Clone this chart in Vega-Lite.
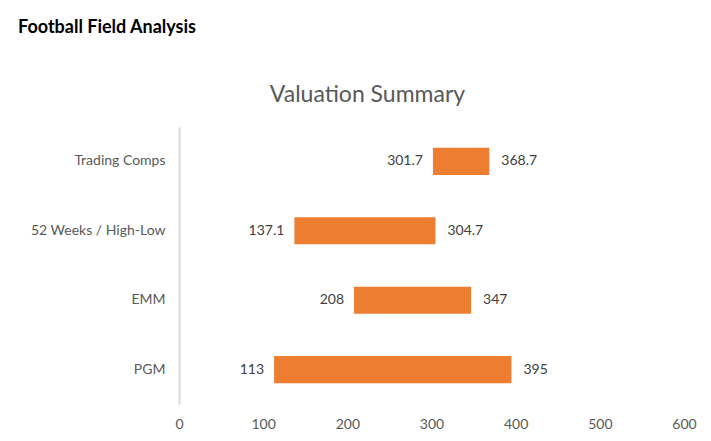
{
  "$schema": "https://vega.github.io/schema/vega-lite/v6.json",
  "background": "white",
  "padding": {"left": 18, "top": 19, "right": 8, "bottom": 6},
  "title": {"text": "Football Field Analysis", "anchor": "start", "frame": "bounds", "fontSize": 18, "font": "Lato", "fontWeight": "bold", "color": "black", "offset": 47},
  "config": {
    "view": {"stroke": null},
    "font": "Lato",
    "axis": {"labelFont": "Lato", "labelFontSize": 14, "labelColor": "#595959", "ticks": false, "grid": false, "title": null}
  },
  "vconcat": [
    {
      "width": 505,
      "height": 277,
      "title": {"text": "Valuation Summary", "fontSize": 23, "fontWeight": "normal", "color": "#595959", "font": "Lato", "anchor": "middle", "dx": -64, "offset": 20},
      "data": {"values": [
        {"method": "Trading Comps", "low": 301.7, "high": 368.7},
        {"method": "52 Weeks / High-Low", "low": 137.1, "high": 304.7},
        {"method": "EMM", "low": 208, "high": 347},
        {"method": "PGM", "low": 113, "high": 395}
      ]},
      "encoding": {
        "y": {"field": "method", "type": "nominal", "sort": null,
              "scale": {"paddingInner": 0.61, "paddingOuter": 0.3},
              "axis": {"domain": true, "domainColor": "#D9D9D9", "domainWidth": 2, "labelPadding": 14, "minExtent": 161}}
      },
      "layer": [
        {
          "mark": {"type": "bar", "color": "#ED7D31"},
          "encoding": {
            "x": {"field": "low", "type": "quantitative", "scale": {"domain": [0, 600]},
                  "axis": {"domain": false, "values": [0, 100, 200, 300, 400, 500, 600], "labelPadding": 13, "labelFlush": false}},
            "x2": {"field": "high"}
          }
        },
        {
          "mark": {"type": "text", "align": "right", "dx": -10, "fontSize": 14, "color": "#404040"},
          "encoding": {
            "x": {"field": "low", "type": "quantitative"},
            "text": {"field": "low", "type": "nominal"}
          }
        },
        {
          "mark": {"type": "text", "align": "left", "dx": 12, "fontSize": 14, "color": "#404040"},
          "encoding": {
            "x": {"field": "high", "type": "quantitative"},
            "text": {"field": "high", "type": "nominal"}
          }
        }
      ]
    }
  ]
}
